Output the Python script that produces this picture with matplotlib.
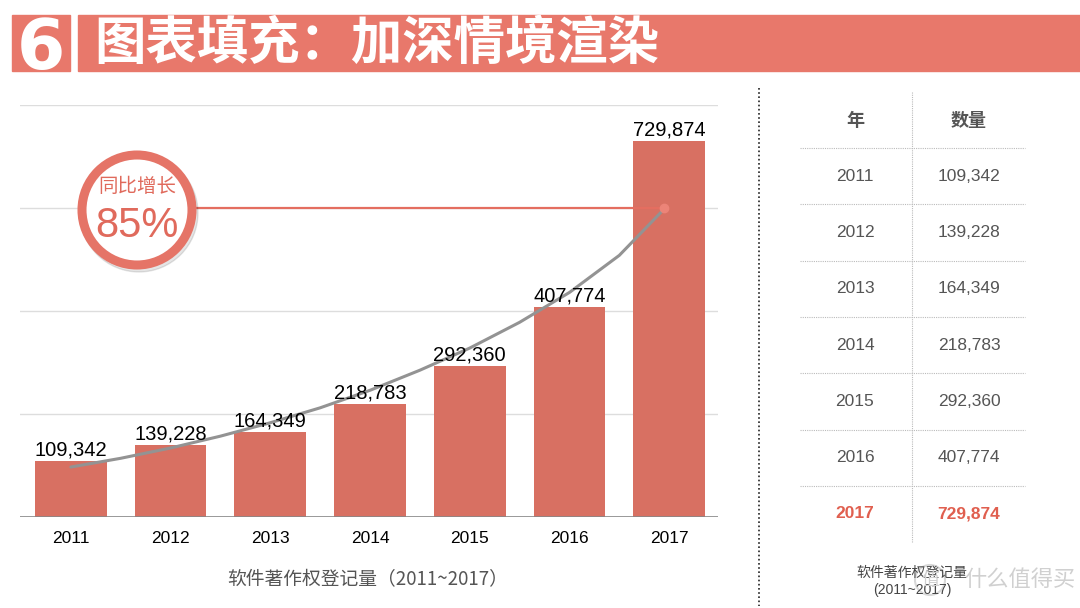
import matplotlib.pyplot as plt
from matplotlib.patches import Rectangle, Circle

plt.rcParams['font.family'] = ['Liberation Sans', 'Noto Sans CJK SC', 'DejaVu Sans']
CJK = ['Noto Sans CJK SC', 'DejaVu Sans']

# data
years = ['2011', '2012', '2013', '2014', '2015', '2016', '2017']
counts = [109342, 139228, 164349, 218783, 292360, 407774, 729874]
# grey trend curve at half-year steps
trend_x = [0, 0.5, 1, 1.5, 2, 2.5, 3, 3.5, 4, 4.5, 5, 5.5, 5.95]
trend_y = [97000, 114000, 134000, 157000, 183000, 212000, 246000,
           285000, 328000, 378000, 436000, 508000, 598000]
growth_text = '85%'
growth_level = 600000
title = '图表填充：加深情境渲染'
caption = '软件著作权登记量（2011~2017）'

BAR = '#D87062'
SALMON = '#E8786B'
W, H = 1080, 608

fig = plt.figure(figsize=(W / 100, H / 100), dpi=100)

# ---- bar chart
ax = fig.add_axes([20 / W, 1 - 517 / H, 698 / W, 412 / H])
x = range(len(years))
ax.bar(x, counts, width=0.72, color=BAR, zorder=2)
for i, v in zip(x, counts):
    ax.text(i, v + 3000, f'{v:,}', ha='center', va='bottom', fontsize=14.5,
            color='black', zorder=4)
for g in [200000, 400000, 600000, 800000]:
    ax.axhline(g, color='#dddddd', lw=1, zorder=1)
ax.axhline(0, color='#888888', lw=1.2, zorder=3)
ax.plot(trend_x, trend_y, color='#939393', lw=2.2, zorder=3,
        solid_capstyle='round', solid_joinstyle='round')
ax.plot([0.68, trend_x[-1]], [growth_level, growth_level], color='#E46E60',
        lw=1.6, zorder=3)
ax.plot([trend_x[-1]], [growth_level], 'o', color='#EC8478', ms=6, zorder=4)
ax.set_xlim(-0.51, 6.49)
ax.set_ylim(0, 800000)
ax.set_xticks(list(x))
ax.set_xticklabels(years, fontsize=12.5)
ax.tick_params(axis='x', length=0, pad=10)
ax.set_yticks([])
for s in ax.spines.values():
    s.set_visible(False)

fig.text(368 / W, 1 - 580 / H, caption, ha='center', va='center',
         fontsize=13.5, color='#555555', family=CJK)

# ---- overlay in pixel coordinates
ov = fig.add_axes([0, 0, 1, 1], zorder=5)
ov.set_xlim(0, W)
ov.set_ylim(H, 0)
ov.axis('off')
ov.patch.set_alpha(0)

# title banner
box6 = Rectangle((12, 15), 58, 56, color=SALMON)
ov.add_patch(box6)
t6 = ov.text(41, 50, '6', ha='center', va='center', fontsize=50,
             fontweight='bold', color='white', family=['DejaVu Sans'])
t6.set_clip_path(box6)
ov.add_patch(Rectangle((78, 15), W - 78, 56, color=SALMON))
ov.text(94, 43, title, ha='left', va='center', fontsize=37, fontweight='bold',
        color='white', family=CJK)

# growth badge
ov.add_patch(Circle((139, 213), 59, color='#000000', alpha=0.10))
ov.add_patch(Circle((137, 210), 55, facecolor='white', edgecolor='#E57467',
                    lw=6.5))
ov.text(137, 187, '同比增长', ha='center', va='center', fontsize=14,
        color='#E06A5C', family=CJK)
ov.text(137, 226, growth_text, ha='center', va='center', fontsize=30,
        color='#E06A5C')

# separator
ov.plot([759, 759], [88, 606], color='#222222', lw=1.2, ls=(0, (1, 1.5)))

# table
rows_top = 148
pitch = 56.3
ov.plot([912, 912], [92, 542], color='#bbbbbb', lw=0.8, ls=(0, (1, 1)))
ov.text(855, 120, '年', ha='center', va='center', fontsize=13,
        fontweight='bold', color='#555555', family=CJK)
ov.text(969, 120, '数量', ha='center', va='center', fontsize=13,
        fontweight='bold', color='#555555', family=CJK)
for k, (yr, v) in enumerate(zip(years, counts)):
    yline = rows_top + k * pitch
    ov.plot([800, 1025], [yline, yline], color='#bbbbbb', lw=0.8,
            ls=(0, (1, 1)))
    yc = yline + pitch / 2
    last = k == len(years) - 1
    col = '#E05F4F' if last else '#555555'
    wt = 'bold' if last else 'normal'
    ov.text(855, yc, yr, ha='center', va='center', fontsize=12.5, color=col,
            fontweight=wt)
    ov.text(969, yc, f'{v:,}', ha='center', va='center', fontsize=12.5,
            color=col, fontweight=wt)

ov.text(912, 573, '软件著作权登记量', ha='center', va='center', fontsize=10,
        color='#444444', family=CJK)
ov.text(912, 590, '(2011~2017)', ha='center', va='center', fontsize=10,
        color='#444444')

# watermark
ov.add_patch(Circle((930, 580), 15, facecolor='none', edgecolor='#d8d8d8',
                    lw=1.5))
ov.text(930, 580, '值', ha='center', va='center', fontsize=13,
        color='#d0d0d0', family=CJK)
ov.text(1020, 579, '什么值得买', ha='center', va='center', fontsize=16,
        color='#d0d0d0', family=CJK)

fig.savefig('out.png', dpi=100)
